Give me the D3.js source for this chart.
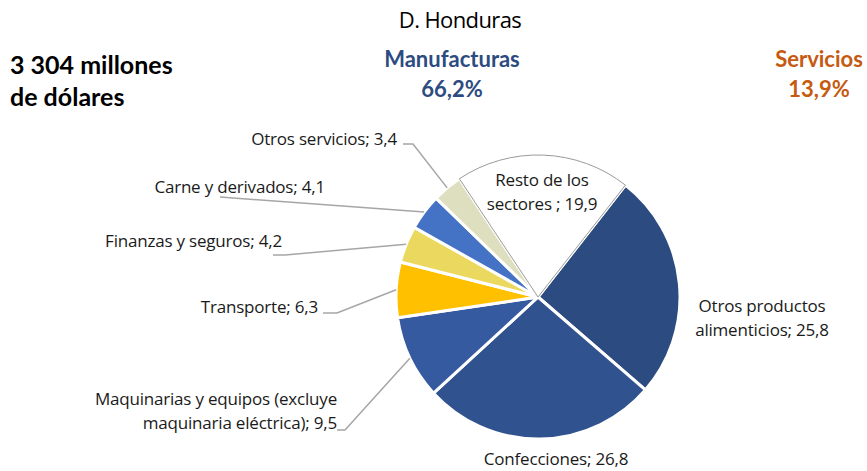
<!DOCTYPE html>
<html>
<head>
<meta charset="utf-8">
<script src="https://cdn.jsdelivr.net/npm/d3@7"></script>
<style>
  body { margin: 0; background: #fff; }
  svg { display: block; }
</style>
</head>
<body>
<svg id="chart" width="867" height="471"></svg>
<script>
// sectores, en orden horario desde el borde de "Resto"
const sectors = [
  'Otros productos alimenticios',
  'Confecciones',
  'Maquinarias y equipos (excluye maquinaria eléctrica)',
  'Transporte',
  'Finanzas y seguros',
  'Carne y derivados',
  'Otros servicios',
  'Resto de los sectores ',
];
const shares = [25.8, 26.8, 9.5, 6.3, 4.2, 4.1, 3.4, 19.9];
const sectorColors = ['#2c4b80', '#30538f', '#355aa0', '#ffc000', '#ebd95f', '#4472c4', '#dddfbe', '#ffffff'];

const totalLabel = ['3 304 millones', 'de dólares'];
const groupNames = ['Manufacturas', 'Servicios'];
const groupShares = ['66,2%', '13,9%'];

const width = 867;
const height = 471;
const cx = 538;
const cy = 297;
const radius = 142;

const svg = d3.select('#chart');

// label layout: text lines, anchor and leader start points
const labelLayout = [
  { lines: ['Otros productos', 'alimenticios; 25,8'], x: 762, y: 312, anchor: 'middle' },
  { lines: ['Confecciones; 26,8'], x: 556, y: 465, anchor: 'middle' },
  { lines: ['Maquinarias y equipos (excluye', 'maquinaria eléctrica); 9,5'], x: 337, y: 405, anchor: 'end', leader: [[337, 430], [345, 430]] },
  { lines: ['Transporte; 6,3'], x: 318, y: 313, anchor: 'end', leader: [[323, 313], [337, 313]] },
  { lines: ['Finanzas y seguros; 4,2'], x: 282, y: 247, anchor: 'end', leader: [[273, 255], [285, 255]] },
  { lines: ['Carne y derivados; 4,1'], x: 325, y: 193, anchor: 'end', leader: [[220, 197]] },
  { lines: ['Otros servicios; 3,4'], x: 397, y: 145, anchor: 'end', leader: [[403, 144], [413, 144]] },
  { lines: ['Resto de los', 'sectores ; 19,9'], x: 542, y: 186, anchor: 'middle' },
];

const pie = d3.pie()
  .sort(null)
  .value(d => d)
  .startAngle(38 * Math.PI / 180)
  .endAngle(38 * Math.PI / 180 + 2 * Math.PI);

const arc = d3.arc().innerRadius(0).outerRadius(radius);
const edge = d3.arc().innerRadius(radius).outerRadius(radius);

const arcs = pie(shares);

const g = svg.append('g').attr('transform', `translate(${cx},${cy})`);

g.selectAll('path')
  .data(arcs)
  .join('path')
  .attr('d', arc)
  .attr('fill', (d, i) => sectorColors[i])
  .attr('stroke', '#ffffff')
  .attr('stroke-width', 3)
  .attr('stroke-linejoin', 'round');

// Resto slice drawn on top so its grey outline stays visible
g.append('path')
  .datum(arcs[7])
  .attr('d', arc)
  .attr('fill', '#ffffff')
  .attr('stroke', '#9a9a9a')
  .attr('stroke-width', 1);

// leader lines
const line = d3.line();
labelLayout.forEach((lab, i) => {
  if (!lab.leader) return;
  const [ex, ey] = edge.centroid(arcs[i]);
  const pts = lab.leader.concat([[cx + ex, cy + ey]]);
  svg.append('path')
    .attr('d', line(pts))
    .attr('fill', 'none')
    .attr('stroke', '#a6a6a6')
    .attr('stroke-width', 1.5);
});

// slice labels
labelLayout.forEach(lab => {
  const t = svg.append('text')
    .attr('x', lab.x)
    .attr('y', lab.y)
    .attr('text-anchor', lab.anchor)
    .attr('font-family', '"Open Sans", "Noto Sans", sans-serif')
    .attr('font-size', 17)
    .attr('letter-spacing', -0.2)
    .attr('fill', '#1a1a1a');
  lab.lines.forEach((l, j) => {
    t.append('tspan')
      .attr('x', lab.x)
      .attr('dy', j === 0 ? 0 : 24)
      .text(l);
  });
});

// title
svg.append('text')
  .attr('x', 460)
  .attr('y', 28)
  .attr('text-anchor', 'middle')
  .attr('font-family', '"Open Sans", sans-serif')
  .attr('font-size', 22)
  .attr('letter-spacing', -0.6)
  .attr('fill', '#000')
  .text('D. Honduras');

// total
svg.append('text')
  .attr('font-family', 'Lato, sans-serif')
  .attr('font-weight', 'bold')
  .attr('font-size', 25)
  .attr('fill', '#000')
  .selectAll('tspan')
  .data(totalLabel)
  .join('tspan')
  .attr('x', 10)
  .attr('y', (d, i) => 74 + i * 32)
  .text(d => d);

// group shares
const groupX = [452, 819];
const groupColors = ['#2c4b80', '#c55a11'];
groupNames.forEach((name, i) => {
  svg.append('text')
    .attr('x', groupX[i])
    .attr('text-anchor', 'middle')
    .attr('font-family', 'Lato, sans-serif')
    .attr('font-weight', 'bold')
    .attr('font-size', 22)
    .attr('fill', groupColors[i])
    .selectAll('tspan')
    .data([name, groupShares[i]])
    .join('tspan')
    .attr('x', groupX[i])
    .attr('y', (d, j) => 67 + j * 30)
    .text(d => d);
});
</script>
</body>
</html>
